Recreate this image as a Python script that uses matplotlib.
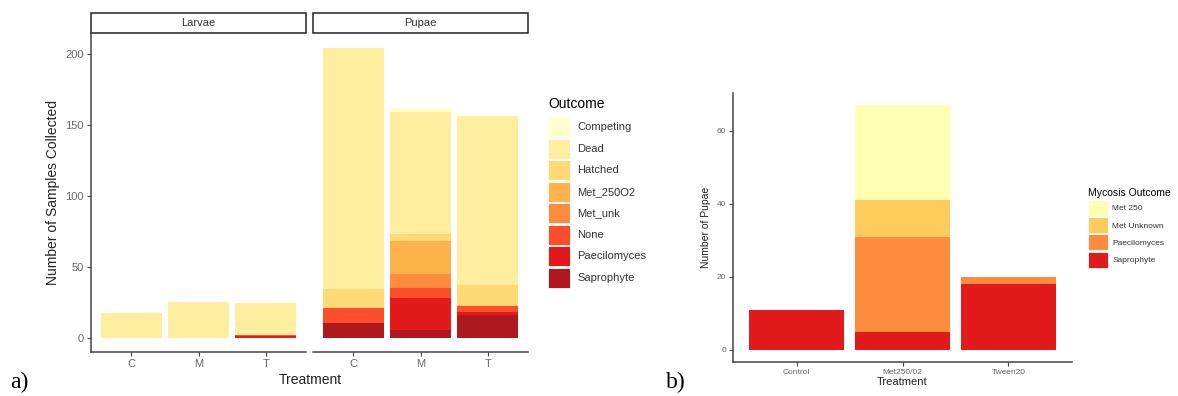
import matplotlib
matplotlib.use("Agg")
import matplotlib.pyplot as plt
from matplotlib.patches import Patch, Rectangle
import numpy as np

plt.rcParams["font.family"] = ["Liberation Sans", "DejaVu Sans"]

# ---- panel a data ----
treatments_a = ["C", "M", "T"]
stages = ["Larvae", "Pupae"]
outcomes_a = ["Competing", "Dead", "Hatched", "Met_250O2", "Met_unk",
              "None", "Paecilomyces", "Saprophyte"]
colors_a = ["#FFFFCC", "#FFEDA0", "#FED976", "#FEB24C", "#FD8D3C",
            "#FC4E2A", "#E31A1C", "#B01820"]
larvae_counts = {
    "Competing": [0, 0, 0],
    "Dead": [17, 25, 22],
    "Hatched": [0, 0, 0],
    "Met_250O2": [0, 0, 0],
    "Met_unk": [0, 0, 0],
    "None": [0, 0, 1],
    "Paecilomyces": [0, 0, 1],
    "Saprophyte": [0, 0, 0],
}
pupae_counts = {
    "Competing": [0, 3, 0],
    "Dead": [170, 86, 119],
    "Hatched": [13, 5, 15],
    "Met_250O2": [0, 23, 0],
    "Met_unk": [0, 10, 0],
    "None": [11, 7, 4],
    "Paecilomyces": [0, 23, 2],
    "Saprophyte": [10, 5, 16],
}

# ---- panel b data ----
treatments_b = ["Control", "Met250/02", "Tween20"]
outcomes_b = ["Met 250", "Met Unknown", "Paecilomyces", "Saprophyte"]
colors_b = ["#FFFFB2", "#FECC5C", "#FD8D3C", "#E31A1C"]
mycosis_counts = {
    "Met 250": [0, 26, 0],
    "Met Unknown": [0, 10, 0],
    "Paecilomyces": [0, 26, 2],
    "Saprophyte": [11, 5, 18],
}

W, H = 1178, 396
AXIS_COL = "#444444"
TICK_COL = "#666666"


def px_axes(fig, left, top, right, bottom):
    return fig.add_axes([left / W, 1 - bottom / H, (right - left) / W, (bottom - top) / H])


def stacked(ax, cats, outcomes, colors, counts):
    x = np.arange(1, len(cats) + 1)
    base = np.zeros(len(cats))
    # ggplot stacks the last level at the bottom
    for name, col in zip(outcomes[::-1], colors[::-1]):
        vals = np.array(counts[name], dtype=float)
        ax.bar(x, vals, bottom=base, width=0.9, color=col, linewidth=0)
        base += vals
    ax.set_xlim(0.4, len(cats) + 0.6)
    ax.set_xticks(x)
    ax.set_xticklabels(cats)


def style(ax, left_axis=True, tsize=8):
    for s in ["top", "right"]:
        ax.spines[s].set_visible(False)
    ax.spines["bottom"].set_color(AXIS_COL)
    ax.spines["bottom"].set_linewidth(1.1)
    if left_axis:
        ax.spines["left"].set_color(AXIS_COL)
        ax.spines["left"].set_linewidth(1.1)
    else:
        ax.spines["left"].set_visible(False)
        ax.tick_params(axis="y", left=False, labelleft=False)
    ax.tick_params(colors=AXIS_COL, labelcolor=TICK_COL, length=3, width=0.8,
                   labelsize=tsize, pad=2)


fig = plt.figure(figsize=(W / 100, H / 100), dpi=100)

# panel a facets
ax_l = px_axes(fig, 91, 33, 306, 352)
ax_p = px_axes(fig, 313, 33, 528, 352)
for ax, stage, counts in [(ax_l, "Larvae", larvae_counts), (ax_p, "Pupae", pupae_counts)]:
    stacked(ax, treatments_a, outcomes_a, colors_a, counts)
    ax.set_ylim(-10.2, 214.6)
    ax.set_yticks([0, 50, 100, 150, 200])
    style(ax, left_axis=(stage == "Larvae"), tsize=8)
    ax.add_patch(Rectangle((0, 1.0), 1, 0.064, transform=ax.transAxes, clip_on=False,
                           facecolor="white", edgecolor="#222222", linewidth=1.1))
    ax.text(0.5, 1.032, stage, transform=ax.transAxes, ha="center", va="center",
            fontsize=8, color="#333333")
ax_l.set_ylabel("Number of Samples Collected", fontsize=10, color="#222222", labelpad=4)
fig.text(310 / W, 1 - 380 / H, "Treatment", ha="center", va="center", fontsize=10,
         color="#222222")

handles_a = [Patch(facecolor=c, edgecolor="white", linewidth=0.6) for c in colors_a]
leg_a = fig.legend(handles_a, outcomes_a, title="Outcome", loc="upper left",
                   bbox_to_anchor=(544 / W, 1 - 93 / H), frameon=False, fontsize=8,
                   title_fontsize=10, handlelength=1.9, handleheight=2.4,
                   labelspacing=0.13, handletextpad=0.7, borderaxespad=0)
leg_a._legend_box.align = "left"
leg_a._legend_box.sep = 4
for t in leg_a.get_texts():
    t.set_color("#333333")

# panel b
ax_b = px_axes(fig, 733, 93, 1072, 362)
stacked(ax_b, treatments_b, outcomes_b, colors_b, mycosis_counts)
ax_b.set_ylim(-3.35, 70.4)
ax_b.set_yticks([0, 20, 40, 60])
style(ax_b, tsize=6)
ax_b.set_ylabel("Number of Pupae", fontsize=7.5, color="#222222", labelpad=4)
ax_b.set_xlabel("Treatment", fontsize=8, color="#222222", labelpad=1)

handles_b = [Patch(facecolor=c, edgecolor="white", linewidth=0.6) for c in colors_b]
leg_b = fig.legend(handles_b, outcomes_b, title="Mycosis Outcome", loc="upper left",
                   bbox_to_anchor=(1085 / W, 1 - 185 / H), frameon=False, fontsize=6,
                   title_fontsize=7.5, handlelength=2.4, handleheight=2.6,
                   labelspacing=0.15, handletextpad=0.5, borderaxespad=0)
leg_b._legend_box.align = "left"
for t in leg_b.get_texts():
    t.set_color("#333333")

# panel letters
fig.text(10 / W, 1 - 382 / H, "a)", fontsize=17, family=["Liberation Serif", "DejaVu Serif"],
         ha="left", va="center")
fig.text(666 / W, 1 - 382 / H, "b)", fontsize=17, family=["Liberation Serif", "DejaVu Serif"],
         ha="left", va="center")

fig.savefig("out.png", dpi=100)
